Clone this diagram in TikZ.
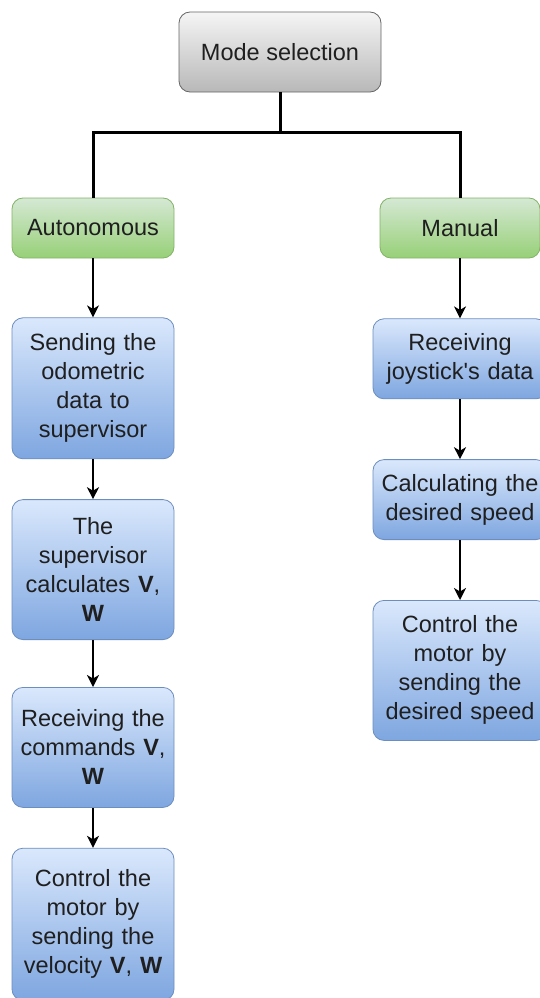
\documentclass[tikz,border=0pt]{standalone}
\usepackage{fontspec}
\setmainfont{Liberation Sans}
\usepackage{xcolor}
\usepackage{tikz}
\usetikzlibrary{positioning}
\usetikzlibrary{arrows.meta}
\definecolor{grayborder}{HTML}{666666}
\definecolor{graytop}{HTML}{F5F5F5}
\definecolor{graybot}{HTML}{B8B8B8}
\definecolor{greenborder}{HTML}{82B366}
\definecolor{greentop}{HTML}{D5E8D4}
\definecolor{greenbot}{HTML}{97D077}
\definecolor{blueborder}{HTML}{6C8EBF}
\definecolor{bluetop}{HTML}{DAE8FC}
\definecolor{bluebot}{HTML}{7EA6E0}
\tikzstyle{basebox} = [rectangle, rounded corners=11pt, line width=0.8pt,
inner sep=4pt, align=center, text=black!88,
font=\fontsize{23.5}{29}\selectfont]
\tikzstyle{modebox} = [basebox, draw=grayborder, top color=graytop, bottom color=graybot,
minimum width=202pt, minimum height=80pt]
\tikzstyle{greenbox} = [basebox, draw=greenborder, top color=greentop, bottom color=greenbot,
minimum height=60pt]
\tikzstyle{bluebox} = [basebox, draw=blueborder, top color=bluetop, bottom color=bluebot]
\tikzstyle{leftbox} = [text width=154pt]
\tikzstyle{rightbox} = [text width=166pt]
\tikzstyle{flowarrow} = [line width=1.6pt, -{Stealth[length=12pt, width=12pt, inset=3.5pt]}]
\tikzstyle{branchline} = [line width=3pt]

\begin{document}
\begin{tikzpicture}[x=1pt, y=1pt]
        \useasboundingbox (0,0) rectangle (540,-998);
        \node [modebox] (mode) at (280,-52) {Mode selection};
        \node [greenbox, leftbox] (auto) at (93,-228) {Autonomous};
        \node [greenbox, text width=152pt] (manual) at (460,-228) {Manual};

        \node [bluebox, leftbox, minimum height=141pt, below=59pt of auto] (sending)
            {Sending the\\ odometric\\ data to\\ supervisor};
        \node [bluebox, leftbox, minimum height=140pt, below=40pt of sending] (supervisor)
            {The\\ supervisor\\ calculates \textbf{V},\\ \textbf{W}};
        \node [bluebox, leftbox, minimum height=120pt, below=47pt of supervisor] (commands)
            {Receiving the\\ commands \textbf{V},\\ \textbf{W}};
        \node [bluebox, leftbox, minimum height=152pt, below=40pt of commands] (velocity)
            {Control the\\ motor by\\ sending the\\ velocity \textbf{V}, \textbf{W}};

        \node [bluebox, rightbox, minimum height=80pt, below=60pt of manual] (joystick)
            {Receiving\\ joystick\textquotesingle s data};
        \node [bluebox, rightbox, minimum height=80pt, below=60pt of joystick] (speed)
            {Calculating the\\ desired speed};
        \node [bluebox, rightbox, minimum height=140pt, below=60pt of speed] (motor)
            {Control the\\ motor by\\ sending the\\ desired speed};

        \draw [branchline] (mode.south) -- ++(0,-40) coordinate (split);
        \draw [branchline] (split) -| (auto.north);
        \draw [branchline] (split) -| (manual.north);

        \draw [flowarrow] (auto) -- (sending);
        \draw [flowarrow] (sending) -- (supervisor);
        \draw [flowarrow] (supervisor) -- (commands);
        \draw [flowarrow] (commands) -- (velocity);
        \draw [flowarrow] (manual) -- (joystick);
        \draw [flowarrow] (joystick) -- (speed);
        \draw [flowarrow] (speed) -- (motor);
    \end{tikzpicture}
\end{document}
